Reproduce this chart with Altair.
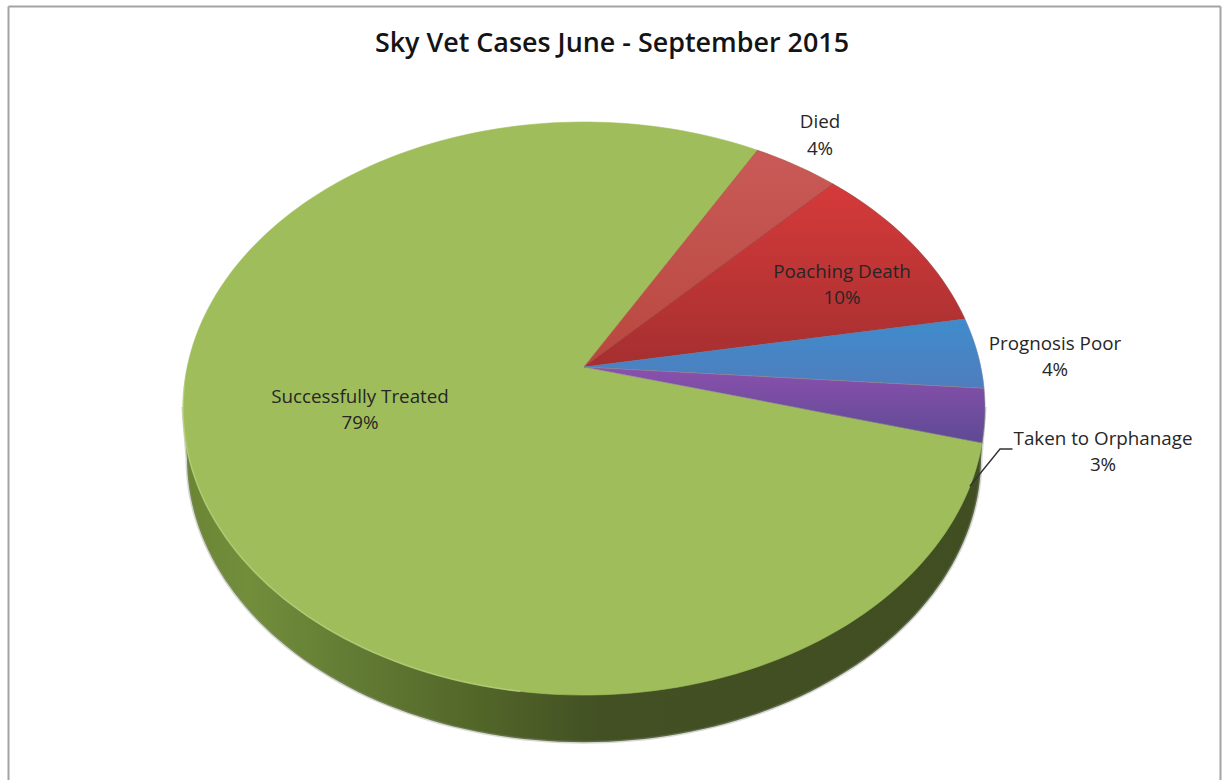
import math

import altair as alt
import pandas as pd

# Case shares, in percent, clockwise from the back of the pie
categories = ["Died", "Poaching Death", "Prognosis Poor", "Taken to Orphanage", "Successfully Treated"]
shares = [4, 10, 4, 3, 79]
title_text = "Sky Vet Cases June - September 2015"

# Perspective view of the pie: a tilted disc seen from the front
W, H = 1223, 780
APEX_X, APEX_Y = 584, 367
BX, AY, K = 396.8, 280.5, 0.145
DEPTH, RIM_SHRINK = 50, 0.99
START_ANGLE = 60.5


def project(deg, drop=0.0, shrink=1.0):
    u, v = math.cos(math.radians(deg)), math.sin(math.radians(deg))
    w = 1 + K * v
    return (APEX_X + shrink * BX * u / w, APEX_Y + drop - shrink * AY * v / w + (1 - shrink) * 41)


def frame(points):
    return pd.DataFrame([{"px": x, "py": y, "i": i} for i, (x, y) in enumerate(points)])


x_scale = alt.Scale(domain=[0, W], range=[0, W], nice=False, zero=False)
y_scale = alt.Scale(domain=[0, H], range=[0, H], nice=False, zero=False)
X = alt.X("px:Q", scale=x_scale, axis=None)
Y = alt.Y("py:Q", scale=y_scale, axis=None)


def polygon(points, fill, stroke="transparent", stroke_width=0, stroke_opacity=1):
    return (
        alt.Chart(frame(points))
        .mark_line(
            interpolate="linear-closed",
            fill=fill,
            stroke=stroke,
            strokeWidth=stroke_width,
            strokeOpacity=stroke_opacity,
            clip=False,
        )
        .encode(x=X, y=Y, order=alt.Order("i:Q"))
    )


def path(points, color, width, opacity=1):
    return (
        alt.Chart(frame(points))
        .mark_line(color=color, strokeWidth=width, opacity=opacity, strokeCap="round")
        .encode(x=X, y=Y, order=alt.Order("i:Q"))
    )


def vertical(top, bottom):
    return alt.Gradient(
        gradient="linear", x1=0, x2=0, y1=0, y2=1,
        stops=[alt.GradientStop(offset=0, color=top), alt.GradientStop(offset=1, color=bottom)],
    )


# Slice angles follow directly from the shares
bounds = [START_ANGLE]
for share in shares:
    bounds.append(bounds[-1] - 3.6 * share)

slice_fills = {
    "Died": vertical("#c95a57", "#b9473f"),
    "Poaching Death": vertical("#d63a3a", "#a52f30"),
    "Prognosis Poor": vertical("#3f8ccc", "#4f7dbd"),
    "Taken to Orphanage": vertical("#8b50ad", "#5d4a94"),
    "Successfully Treated": "#9fbe5b",
}
slice_edges = {
    "Died": "#a8503f",
    "Poaching Death": "#8f3a3a",
    "Prognosis Poor": "#5a7fa8",
    "Taken to Orphanage": "#8d8c8c",
    "Successfully Treated": "#9fbe5b",
}


def arc_points(a0, a1, drop=0.0, shrink=1.0):
    steps = max(2, int(abs(a1 - a0) / 1.5))
    return [project(a0 + (a1 - a0) * s / steps, drop, shrink) for s in range(steps + 1)]


# Side wall of the disc, darkening from left to right
tip = math.degrees(math.asin(K))
wall_points = (
    [project(180 + tip)]
    + arc_points(180 + tip, 360 - tip, DEPTH, RIM_SHRINK)
    + [project(360 - tip)]
)
wall_fill = alt.Gradient(
    gradient="linear", x1=0, x2=1, y1=0, y2=0,
    stops=[
        alt.GradientStop(offset=0.0, color="#6a8434"),
        alt.GradientStop(offset=0.08, color="#728e3b"),
        alt.GradientStop(offset=0.2, color="#647d35"),
        alt.GradientStop(offset=0.36, color="#536729"),
        alt.GradientStop(offset=0.52, color="#425023"),
        alt.GradientStop(offset=1.0, color="#404e22"),
    ],
)
layers = [
    polygon(wall_points, wall_fill, stroke="#8a8f80", stroke_width=3, stroke_opacity=0.35),
]

# Top face: large slice first, so the small ones sit above its edges
order = [4, 0, 1, 2, 3]
for idx in order:
    name = categories[idx]
    pts = [(APEX_X, APEX_Y)] + arc_points(bounds[idx], bounds[idx + 1])
    layers.append(polygon(pts, slice_fills[name], stroke=slice_edges[name], stroke_width=1, stroke_opacity=0.6))

# Pale highlight along the near-left rim of the top face
layers.append(path(arc_points(184, 262), "#c4da8a", 1.5, 0.6))

# Leader from the smallest slice to its label
leader_from = project((bounds[3] + bounds[4]) / 2 - 13.8)
layers.append(path([leader_from, (1000, 449), (1012, 449)], "#333333", 1.4))

# Data labels, name on one line and share below it
label_at = {
    "Died": (820, 122, 149),
    "Poaching Death": (842, 272, 298),
    "Prognosis Poor": (1055, 344, 370),
    "Taken to Orphanage": (1103, 439, 465),
    "Successfully Treated": (360, 397, 423),
}
rows = []
for name, share in zip(categories, shares):
    cx, y1, y2 = label_at[name]
    rows.append({"px": cx, "py": y1, "t": name})
    rows.append({"px": cx, "py": y2, "t": f"{share}%"})
layers.append(
    alt.Chart(pd.DataFrame(rows))
    .mark_text(font="Open Sans", fontSize=18.8, color="#262626", align="center", baseline="middle")
    .encode(x=X, y=Y, text="t:N")
)

# Chart title
layers.append(
    alt.Chart(pd.DataFrame([{"px": 612, "py": 44, "t": title_text}]))
    .mark_text(font="Open Sans", fontSize=26.9, fontWeight=600, color="#141414", align="center", baseline="middle")
    .encode(x=X, y=Y, text="t:N")
)

# Frame around the chart area
edge = {"color": "#a3a3a3", "strokeWidth": 2}
layers.append(alt.Chart(pd.DataFrame([{"a": 0}])).mark_rule(**edge).encode(
    x=alt.value(8.5), x2=alt.value(1220.5), y=alt.value(6.5)))
layers.append(alt.Chart(pd.DataFrame([{"a": 0}])).mark_rule(**edge).encode(
    x=alt.value(8.5), y=alt.value(6.5), y2=alt.value(780)))
layers.append(alt.Chart(pd.DataFrame([{"a": 0}])).mark_rule(**edge).encode(
    x=alt.value(1220.5), y=alt.value(6.5), y2=alt.value(780)))

chart = (
    alt.layer(*layers)
    .properties(width=W, height=H, padding=0, autosize=alt.AutoSizeParams(type="none"), background="white")
    .configure_view(stroke=None)
)

chart.save("out.html", embed_options={"renderer": "svg", "actions": False})
